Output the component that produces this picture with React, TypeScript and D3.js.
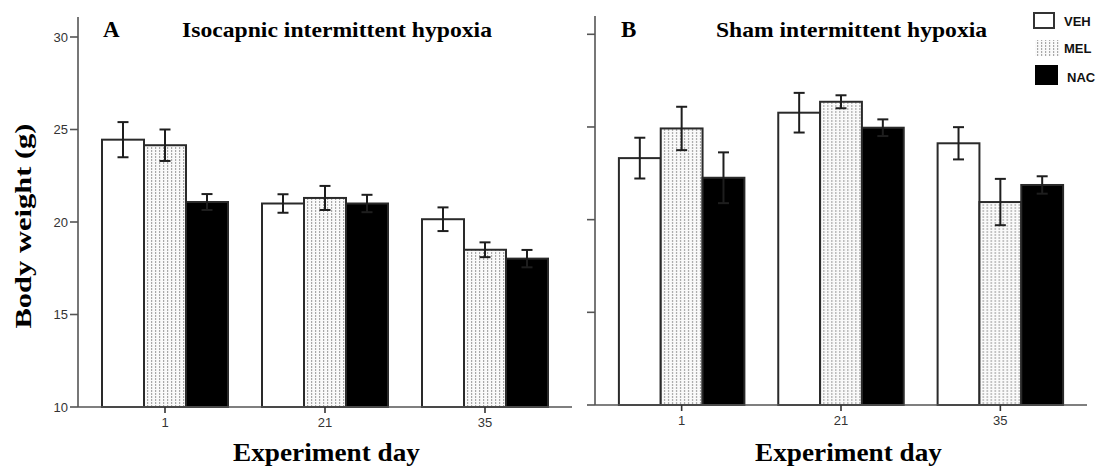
import React from 'react';
import * as d3 from 'd3';

const days = ['1', '21', '35'];
const series = ['VEH', 'MEL', 'NAC'];
const yTicks = [10, 15, 20, 25, 30];

// Isocapnic intermittent hypoxia (panel A)
const isoVEH = [24.45, 21.0, 20.15];
const isoMEL = [24.15, 21.3, 18.5];
const isoNAC = [21.08, 21.0, 18.02];
const isoVEHErr = [0.95, 0.5, 0.64];
const isoMELErr = [0.85, 0.65, 0.4];
const isoNACErr = [0.43, 0.47, 0.47];

// Sham intermittent hypoxia (panel B)
const shamVEH = [23.32, 25.77, 24.12];
const shamMEL = [24.92, 26.36, 20.95];
const shamNAC = [22.26, 24.96, 21.87];
const shamVEHErr = [1.1, 1.07, 0.87];
const shamMELErr = [1.17, 0.35, 1.25];
const shamNACErr = [1.37, 0.45, 0.47];

const fills: Record<string, string> = { VEH: '#ffffff', MEL: 'url(#melPattern)', NAC: '#000000' };
const serif = "'Liberation Serif', 'Times New Roman', serif";
const sans = "Arial, 'Liberation Sans', sans-serif";

type PanelProps = {
  x0: number; x1: number; yBottom: number; yTopVal: number; axisTop: number;
  means: number[][]; errs: number[][]; letter: string; title: string; letterX: number; titleX: number;
  titleLen: number; showLabels: boolean; xLabelX: number;
};

function Panel(p: PanelProps) {
  const xb = d3.scaleBand<string>().domain(days).range([p.x0, p.x1]).paddingInner(0.2125).paddingOuter(0.15);
  const xs = d3.scaleBand<string>().domain(series).range([0, xb.bandwidth()]);
  const y = d3.scaleLinear().domain([10, 30]).range([p.yBottom, p.yTopVal]);
  const cap = 5.5;
  return (
    <g>
      {days.map((d, di) => (
        <g key={d} transform={`translate(${xb(d)},0)`}>
          {series.map((s, si) => {
            const v = p.means[si][di];
            return (
              <rect key={s} x={xs(s)} y={y(v)} width={xs.bandwidth()} height={y(10) - y(v)}
                fill={fills[s]} stroke="#2a2a2a" strokeWidth={2} />
            );
          })}
          {series.map((s, si) => {
            const v = p.means[si][di];
            const e = p.errs[si][di];
            const cx = (xs(s) as number) + xs.bandwidth() / 2;
            return (
              <g key={s + 'e'} stroke="#1e1e1e" strokeWidth={2}>
                <line x1={cx} x2={cx} y1={y(v + e)} y2={y(v - e)} />
                <line x1={cx - cap} x2={cx + cap} y1={y(v + e)} y2={y(v + e)} />
                <line x1={cx - cap} x2={cx + cap} y1={y(v - e)} y2={y(v - e)} />
              </g>
            );
          })}
        </g>
      ))}
      <line x1={p.x0} x2={p.x0} y1={p.axisTop} y2={y(10)} stroke="#555" strokeWidth={1.6} />
      {yTicks.map(t => (
        <g key={t}>
          <line x1={p.x0 - 8} x2={p.x0} y1={y(t)} y2={y(t)} stroke="#555" strokeWidth={1.6} />
          {p.showLabels && (
            <text x={p.x0 - 10} y={y(t)} dy="0.35em" textAnchor="end" fontFamily={sans}
              fontSize={13} fill="#333">{t}</text>
          )}
        </g>
      ))}
      <line x1={p.x0} x2={p.x1} y1={y(10)} y2={y(10)} stroke="#555" strokeWidth={1.6} />
      {days.map(d => {
        const cx = (xb(d) as number) + xb.bandwidth() / 2;
        return (
          <g key={d}>
            <line x1={cx} x2={cx} y1={y(10)} y2={y(10) + 6} stroke="#333" strokeWidth={1.6} />
            <text x={cx} y={y(10) + 20} textAnchor="middle" fontFamily={sans}
              fontSize={13} fill="#333">{d}</text>
          </g>
        );
      })}
      <text x={p.letterX} y={37} fontFamily={serif} fontWeight="bold" fontSize={23} fill="#000">{p.letter}</text>
      <text x={p.titleX} y={37} fontFamily={serif} fontWeight="bold" fontSize={21} fill="#000"
        textLength={p.titleLen} lengthAdjust="spacingAndGlyphs">{p.title}</text>
      <text x={p.xLabelX} y={461} fontFamily={serif} fontWeight="bold" fontSize={25} fill="#000"
        textLength={187} lengthAdjust="spacingAndGlyphs">Experiment day</text>
    </g>
  );
}

export default function App() {
  return (
    <svg width={1103} height={467} style={{ position: 'absolute', left: 0, top: 0, background: '#fff' }}>
      <defs>
        <pattern id="melPattern" width={4} height={3} patternUnits="userSpaceOnUse">
          <rect width={4} height={3} fill="#fafafa" />
          <rect x={1} y={0} width={1.2} height={2} fill="#a8a8a8" />
        </pattern>
      </defs>
      <rect width={1103} height={467} fill="#fff" />
      <Panel x0={78} x1={572} yBottom={407} yTopVal={37} axisTop={17}
        means={[isoVEH, isoMEL, isoNAC]} errs={[isoVEHErr, isoMELErr, isoNACErr]}
        letter="A" title="Isocapnic intermittent hypoxia" letterX={103} titleX={182} titleLen={310}
        showLabels={true} xLabelX={233} />
      <Panel x0={595} x1={1087} yBottom={405} yTopVal={34.3} axisTop={16}
        means={[shamVEH, shamMEL, shamNAC]} errs={[shamVEHErr, shamMELErr, shamNACErr]}
        letter="B" title="Sham intermittent hypoxia" letterX={621} titleX={716} titleLen={271}
        showLabels={false} xLabelX={755} />
      <text transform="translate(31,226) rotate(-90)" textAnchor="middle" fontFamily={serif}
        fontWeight="bold" fontSize={23} fill="#000" textLength={205} lengthAdjust="spacingAndGlyphs">Body weight (g)</text>
      <g fontFamily={sans} fontWeight="bold" fontSize={13} fill="#111">
        <rect x={1034} y={13} width={20} height={15} fill="#fff" stroke="#333" strokeWidth={2} />
        <text x={1064} y={21} dy="0.35em">{series[0]}</text>
        <rect x={1035} y={40} width={25} height={16} fill="url(#melPattern)" />
        <text x={1064} y={48} dy="0.35em">{series[1]}</text>
        <rect x={1035} y={65} width={23} height={20} fill="#000" />
        <text x={1067} y={77} dy="0.35em">{series[2]}</text>
      </g>
    </svg>
  );
}
